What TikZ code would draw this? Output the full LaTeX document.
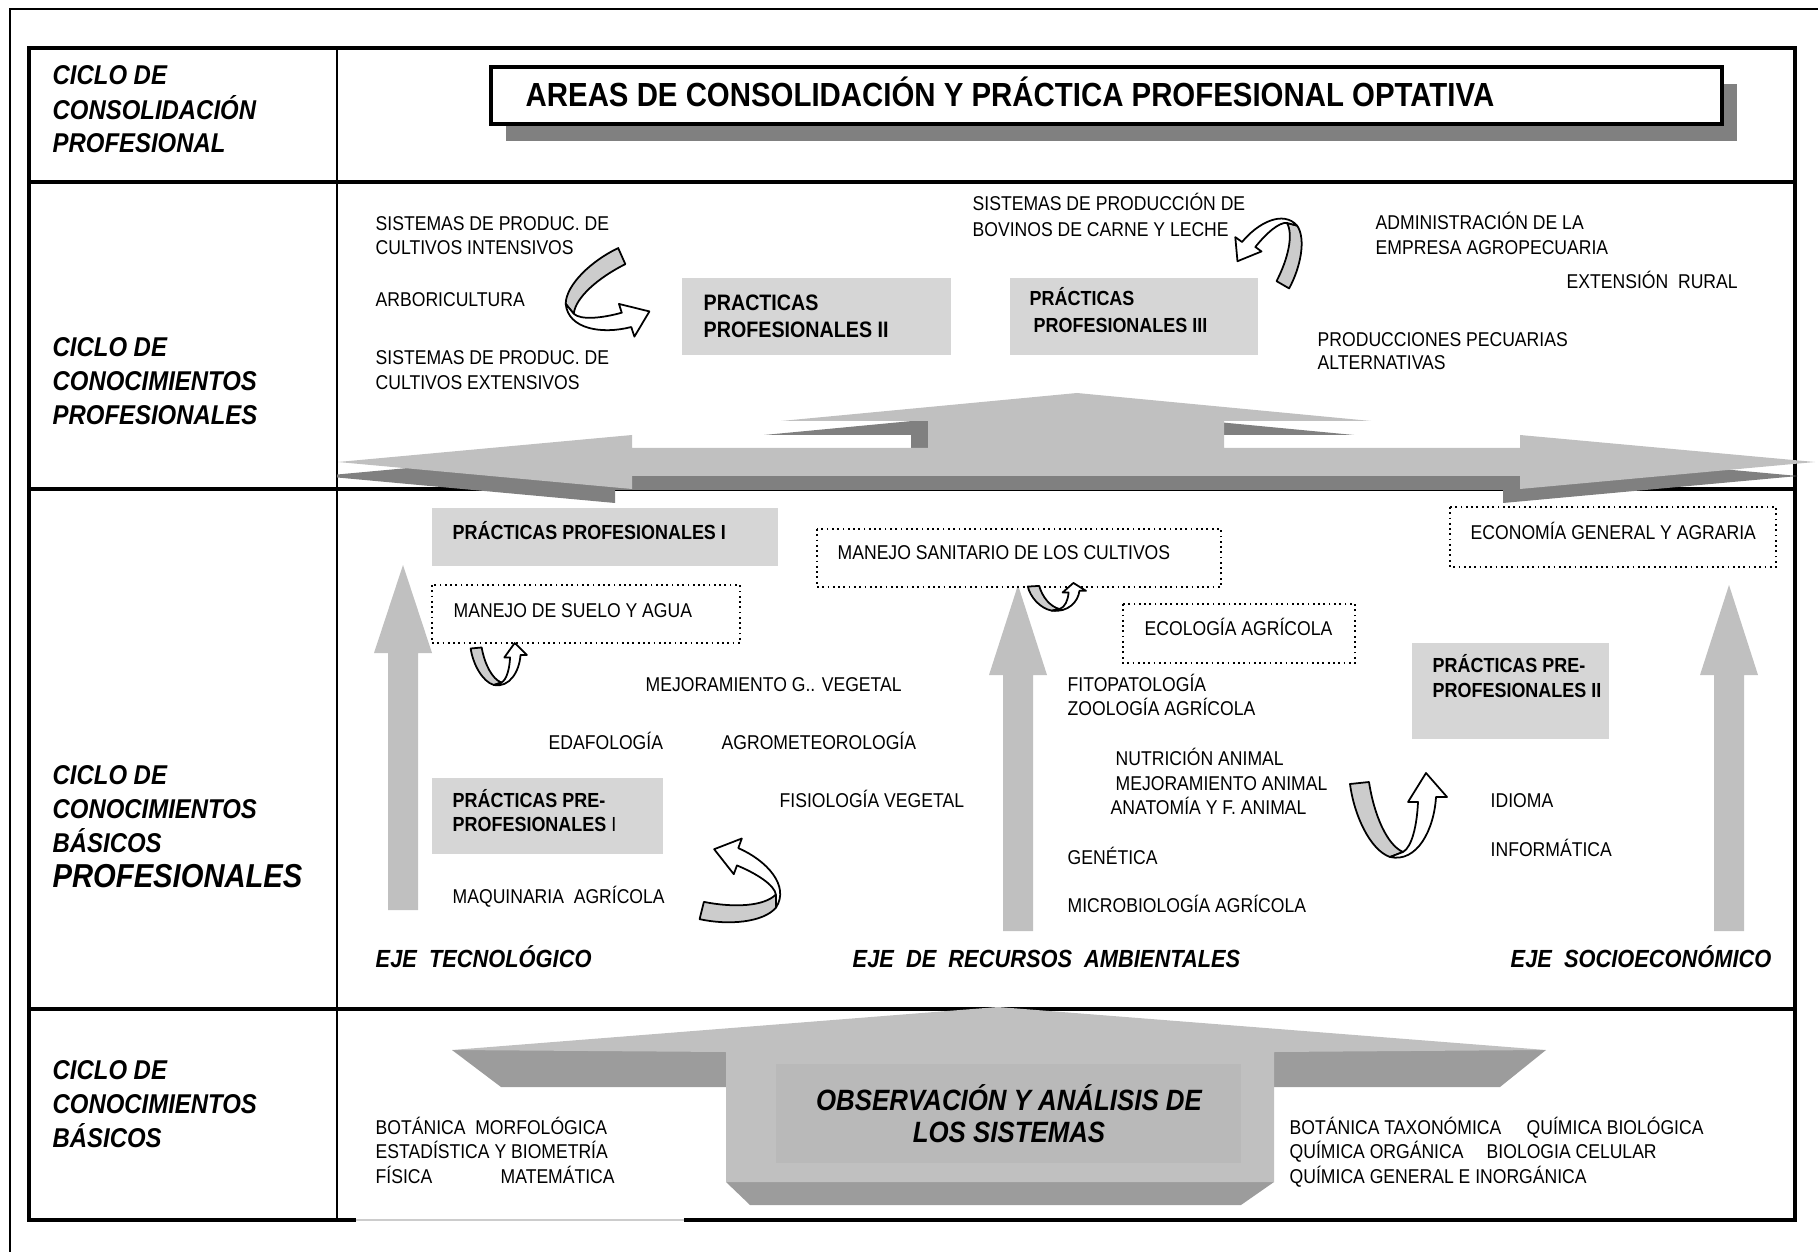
\documentclass[tikz,border=0pt]{standalone}
\usepackage{fontspec}
\setmainfont[FakeStretch=0.88]{Liberation Sans}
\definecolor{silver}{HTML}{C0C0C0}
\definecolor{dimgr}{HTML}{808080}
\definecolor{winggr}{HTML}{9C9C9C}
\definecolor{innergr}{HTML}{B9B9B9}
\definecolor{chkgr}{HTML}{D6D6D6}
\definecolor{turngr}{HTML}{CCCCCC}
\tikzset{
  txt/.style={inner sep=0pt,anchor=base west,font=\fontsize{5.68}{7}\selectfont},
  btxt/.style={txt,font=\fontsize{5.8}{7}\selectfont\bfseries},
  ciclo/.style={txt,font=\fontsize{7.73}{9}\selectfont\bfseries\itshape},
  eje/.style={txt,font=\fontsize{7.05}{9}\selectfont\bfseries\itshape},
  obs/.style={inner sep=0pt,anchor=base,font=\fontsize{8.35}{10}\selectfont\bfseries\itshape},
  dotbox/.style={draw,densely dotted,line width=0.5pt},
  chkbox/.style={fill=chkgr},
  turn/.style={draw,line width=0.5pt,line join=round},
}
\newcommand\curvarrow[5]{%
\begin{scope}[shift={(#1,#2)},rotate=#3,xscale=#4,yscale=-#5]
\draw[turn,fill=turngr](-42,71)--(-23,73).. controls (-18,40) and (-5,10) ..(11,3)--(-2,-2).. controls (-22,5) and (-38,40) ..(-42,71)--cycle;
\draw[turn,fill=white](-2,-2).. controls (25,-8) and (42,25) ..(44,58)--(55,58)--(34,82)--(16,53)--(26,53).. controls (25,30) and (20,8) ..(11,3)--cycle;
\end{scope}}
\begin{document}
\begin{tikzpicture}[x=0.01cm,y=-0.01cm]
\useasboundingbox (0,0) rectangle (1818,1252);
\draw[line width=0.6pt](1818,9)--(10,9)--(10,1252);
\draw[line width=0.9pt](356,1220)--(29,1220)--(29,48)--(1795,48)--(1795,1220)--(684,1220);
\draw[gray!40,line width=0.5pt](356,1220)--(684,1220);
\draw[line width=0.9pt](29,182)--(1795,182) (29,489)--(1795,489) (29,1009)--(1795,1009);
\draw[line width=0.5pt](337,48)--(337,1220);
\fill[dimgr](506,84)rectangle(1737,141);
\draw[fill=white,line width=1pt](491,67)rectangle(1722,124);
\node[txt,font=\fontsize{9.5}{11}\selectfont\bfseries](areas)at(525,107){AREAS DE CONSOLIDACIÓN Y PRÁCTICA PROFESIONAL OPTATIVA};
\node[ciclo](c1a)at(52,85){CICLO DE};
\node[ciclo](c1b)at(52,120){CONSOLIDACIÓN};
\node[ciclo](c1c)at(52,153){PROFESIONAL};
\node[ciclo](c2a)at(52,357){CICLO DE};
\node[ciclo](c2b)at(52,391){CONOCIMIENTOS};
\node[ciclo](c2c)at(52,425){PROFESIONALES};
\node[ciclo](c3a)at(52,784){CICLO DE};
\node[ciclo](c3b)at(52,818){CONOCIMIENTOS};
\node[ciclo](c3c)at(52,852){BÁSICOS};
\node[ciclo,font=\fontsize{9.43}{11}\selectfont\bfseries\itshape](c3d)at(52,887){PROFESIONALES};
\node[ciclo](c4a)at(52,1079){CICLO DE};
\node[ciclo](c4b)at(52,1113){CONOCIMIENTOS};
\node[ciclo](c4c)at(52,1147){BÁSICOS};
\fill[chkbox](682,278)rectangle(951,355);
\fill[chkbox](1010,278)rectangle(1258,355);
\fill[chkbox](432,508)rectangle(778,566);
\fill[chkbox](1412,643)rectangle(1609,739);
\fill[chkbox](432,778)rectangle(663,854);
\foreach \x/\b/\t/\e in {403/910/565/653,1018/931/585/675,1729/931/585/675}
\fill[silver](\x-15,\b)--(\x-15,\e)--(\x-29,\e)--(\x,\t)--(\x+29,\e)--(\x+15,\e)--(\x+15,\b)--cycle;
\begin{scope}
\clip(337,380)rectangle(1818,520);
\foreach \dx/\dy/\col in {-17/14/dimgr,0/0/silver}
\fill[\col,shift={(\dx,\dy)}](338,462)--(632,435)--(632,448)--(928,448)--(928,421)--(781,421)--(1077,393)--(1371,421)--(1224,421)--(1224,448)--(1520,448)--(1520,435)--(1815,462)--(1520,489)--(1520,476)--(632,476)--(632,489)--cycle;
\end{scope}
\draw[dotbox](432,585)rectangle(740,643);
\draw[dotbox](817,529)rectangle(1221,587);
\draw[dotbox](1123,604)rectangle(1355,663);
\draw[dotbox](1450,507)rectangle(1776,567);
\fill[winggr](452,1050)--(726,1050)--(726,1087)--(501,1087)--cycle;
\fill[winggr](1274,1050)--(1546,1050)--(1500,1087)--(1274,1087)--cycle;
\fill[winggr](726,1182)--(1274,1182)--(1241,1205)--(750,1205)--cycle;
\fill[silver](452,1050)--(998,1007)--(1546,1050)--(1274,1052)--(1274,1182)--(726,1182)--(726,1052)--cycle;
\fill[innergr](776,1064)rectangle(1241,1163);
\node[obs](obs1)at(1009,1110){OBSERVACIÓN Y ANÁLISIS DE};
\node[obs](obs2)at(1009,1142){LOS SISTEMAS};
\node[txt](int1)at(375,231){SISTEMAS DE PRODUC. DE};
\node[txt](int2)at(375,255){CULTIVOS INTENSIVOS};
\node[txt](arb)at(375,307){ARBORICULTURA};
\node[txt](ext1)at(375,365){SISTEMAS DE PRODUC. DE};
\node[txt](ext2)at(375,390){CULTIVOS EXTENSIVOS};
\node[txt](bov1)at(972,211){SISTEMAS DE PRODUCCIÓN DE};
\node[txt](bov2)at(972,237){BOVINOS DE CARNE Y LECHE};
\node[txt](adm1)at(1375,230){ADMINISTRACIÓN DE LA};
\node[txt](adm2)at(1375,255){EMPRESA AGROPECUARIA};
\node[txt](extr)at(1566,289){EXTENSIÓN\ \ RURAL};
\node[txt](pec1)at(1317,347){PRODUCCIONES PECUARIAS};
\node[txt](pec2)at(1317,370){ALTERNATIVAS};
\node[btxt,font=\fontsize{6.36}{8}\selectfont\bfseries](pp2a)at(703,311){PRACTICAS};
\node[btxt,font=\fontsize{6.36}{8}\selectfont\bfseries](pp2b)at(703,338){PROFESIONALES II};
\node[btxt](pp3a)at(1029,306){PRÁCTICAS};
\node[btxt](pp3b)at(1033,333){PROFESIONALES III};
\node[btxt](pp1)at(452,539){PRÁCTICAS PROFESIONALES I};
\node[txt](suelo)at(453,617){MANEJO DE SUELO Y AGUA};
\node[txt](sanit)at(837,559){MANEJO SANITARIO DE LOS CULTIVOS};
\node[txt](ecol)at(1144,635){ECOLOGÍA AGRÍCOLA};
\node[txt](econ)at(1470,539){ECONOMÍA GENERAL Y AGRARIA};
\node[btxt](ppp2a)at(1432,672){PRÁCTICAS PRE-};
\node[btxt](ppp2b)at(1432,697){PROFESIONALES II};
\node[btxt](ppp1a)at(452,807){PRÁCTICAS PRE-};
\node[btxt](ppp1b)at(452,831){PROFESIONALES \mdseries I};
\node[txt](mejv)at(645,691){MEJORAMIENTO G.. VEGETAL};
\node[txt](edaf)at(548,749){EDAFOLOGÍA};
\node[txt](agrom)at(721,749){AGROMETEOROLOGÍA};
\node[txt](fisio)at(779,807){FISIOLOGÍA VEGETAL};
\node[txt](maq)at(452,903){MAQUINARIA\ \ AGRÍCOLA};
\node[txt](fito)at(1067,691){FITOPATOLOGÍA};
\node[txt](zoo)at(1067,715){ZOOLOGÍA AGRÍCOLA};
\node[txt](nutr)at(1115,765){NUTRICIÓN ANIMAL};
\node[txt](meja)at(1115,790){MEJORAMIENTO ANIMAL};
\node[txt](anat)at(1110,814){ANATOMÍA Y F. ANIMAL};
\node[txt](gen)at(1067,864){GENÉTICA};
\node[txt](micro)at(1067,912){MICROBIOLOGÍA AGRÍCOLA};
\node[txt](idio)at(1490,807){IDIOMA};
\node[txt](info)at(1490,856){INFORMÁTICA};
\node[eje](ejet)at(375,967){EJE\ \ TECNOLÓGICO};
\node[eje](ejer)at(852,967){EJE\ \ DE\ \ RECURSOS\ \ AMBIENTALES};
\node[eje](ejes)at(1510,967){EJE\ \ SOCIOECONÓMICO};
\node[txt](bmorf)at(375,1134){BOTÁNICA\ \ MORFOLÓGICA};
\node[txt](estad)at(375,1158){ESTADÍSTICA Y BIOMETRÍA};
\node[txt](fis)at(375,1183){FÍSICA};
\node[txt](mat)at(500,1183){MATEMÁTICA};
\node[txt](btax)at(1289,1134){BOTÁNICA TAXONÓMICA};
\node[txt](qbio)at(1526,1134){QUÍMICA BIOLÓGICA};
\node[txt](qorg)at(1289,1158){QUÍMICA ORGÁNICA};
\node[txt](bcel)at(1486,1158){BIOLOGIA CELULAR};
\node[txt](qgen)at(1289,1183){QUÍMICA GENERAL E INORGÁNICA};
\curvarrow{1392}{855}{0}{1}{1}
\curvarrow{495}{684}{0}{0.58}{0.5}
\curvarrow{1053}{610}{0}{0.6}{0.33}
\curvarrow{775}{905}{70}{0.93}{0.93}
\curvarrow{568}{305}{-72}{0.92}{0.92}
\curvarrow{1295}{226}{144}{0.76}{0.76}
\end{tikzpicture}
\end{document}
